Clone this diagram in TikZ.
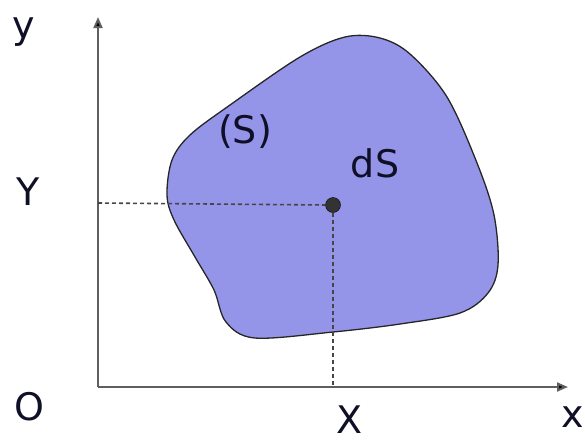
\documentclass[tikz,border=0pt]{standalone}
\usepackage{fontspec}
\setmainfont{DejaVu Sans}
\usetikzlibrary{arrows.meta}
\definecolor{regionfill}{RGB}{148,148,232}
\definecolor{axisgray}{RGB}{95,95,95}
\definecolor{guidegray}{RGB}{70,70,70}
\definecolor{textdark}{RGB}{15,15,40}
\tikzset{
  axisline/.style={draw=axisgray, line width=2pt, -{Triangle[length=11pt,width=9pt,fill=black]}},
  guideline/.style={draw=guidegray, line width=1.6pt, dash pattern=on 4pt off 3pt},
  lbl/.style={font=\fontsize{38}{40}\selectfont, text=textdark, inner sep=0pt},
}
\begin{document}
\begin{tikzpicture}[x=1pt,y=-1pt]
\useasboundingbox (0,0) rectangle (585,445);
% region
\draw[fill=regionfill, draw=black!85, line width=1.3pt]
  plot[smooth cycle, tension=0.55] coordinates {
  (167,195) (172,160) (190,135) (230,105) (300,57) (345,37) (380,38) (410,54)
  (447,97) (477,163) (494,215) (498,265) (488,293) (460,313) (400,324)
  (333,332) (255,338) (226,322) (214,290) (195,257) (174,220)};
% axes
\coordinate (O) at (98,387);
\coordinate (ytip) at (98,17);
\coordinate (xtip) at (568,387);
\coordinate (Ymark) at (98,203);
\coordinate (Xmark) at (333,387);
\draw[axisline] (O) -- (ytip);
\draw[axisline] (O) -- (xtip);
% point dS
\node[circle, fill=black!80, draw=black, minimum size=15pt, inner sep=0pt] (P) at (333,205) {};
\draw[guideline] (Ymark) -- (P.west);
\draw[guideline] (P.south) -- (Xmark);
% labels
\node[lbl, anchor=base] (ylab) at (24,38) {y};
\node[lbl, anchor=base] (Ylab) at (28,205) {Y};
\node[lbl, anchor=base] (Olab) at (29,420) {O};
\node[lbl, anchor=base] (Xlab) at (350,433) {X};
\node[lbl, anchor=base east] (xlab) at (584,427) {x};
\node[lbl, anchor=base] (Slab) at (245,143) {(S)};
\node[lbl, anchor=base] (dSlab) at (375,177) {dS};
\end{tikzpicture}
\end{document}
